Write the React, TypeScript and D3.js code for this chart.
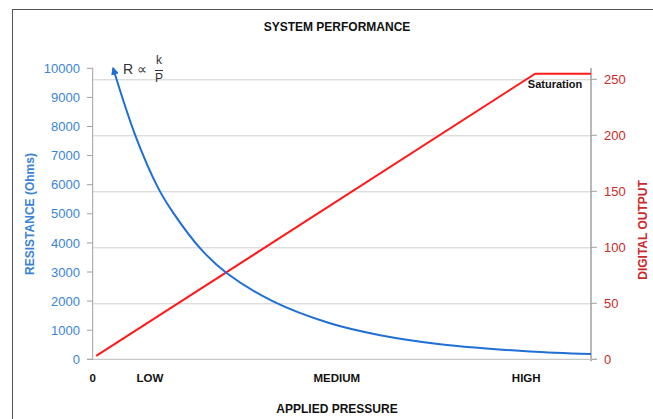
import React from "react";
import * as d3 from "d3";

const pressure = [4.1, 8.6, 13.1, 16.1, 21.9, 27.0, 36.2, 47.6, 57.7, 69.7, 77.8, 87.8, 100];
const resistance = [10000, 7670, 5900, 5050, 3750, 2950, 1990, 1240, 830, 520, 390, 270, 180];

const digitalPressure = [0.7, 88.8, 100];
const digitalOutput = [3, 255, 255];

const xTickValues = [0, 11.5, 49, 87];
const xTickLabels = ["0", "LOW", "MEDIUM", "HIGH"];

const leftTicks = d3.range(0, 10001, 1000);
const rightTicks = d3.range(0, 251, 50);

const W = 653;
const H = 419;
const FONT = "'Liberation Sans', Arial, sans-serif";
const BLUE = "#1f6fd4";
const BLUE_TXT = "#3a84d8";
const RED = "#ff1a1a";
const RED_TXT = "#cc2a2a";

export default function App() {
  const x = d3.scaleLinear().domain([0, 100]).range([92.7, 591]);
  const yL = d3.scaleLinear().domain([0, 10000]).range([359.3, 68.3]);
  const yR = d3.scaleLinear().domain([0, 250]).range([359.3, 79.3]);

  const blueLine = d3
    .line<number>()
    .x((_, i) => x(pressure[i]))
    .y((d) => yL(d))
    .curve(d3.curveCatmullRom.alpha(0.5))(resistance) as string;

  const redLine = d3
    .line<number>()
    .x((_, i) => x(digitalPressure[i]))
    .y((d) => yR(d))(digitalOutput) as string;

  const x0 = x(0);
  const x1 = x(100);
  const yb = yL(0);

  return (
    <svg
      width={W}
      height={H}
      style={{ position: "absolute", left: 0, top: 0, background: "#fff" }}
      fontFamily={FONT}
    >
      <defs>
        <marker
          id="arr"
          viewBox="0 0 10 10"
          refX="8"
          refY="5"
          markerWidth="4"
          markerHeight="4"
          orient="auto-start-reverse"
        >
          <path d="M0,0 L10,5 L0,10 z" fill={BLUE} />
        </marker>
      </defs>
      <rect x={12.5} y={9.5} width={700} height={500} fill="none" stroke="#555" strokeWidth={1} />

      <text x={337} y={31} textAnchor="middle" fontSize={12} fontWeight="bold" fill="#111">
        SYSTEM PERFORMANCE
      </text>

      {rightTicks.slice(1).map((t) => (
        <line key={"g" + t} x1={x0} x2={x1} y1={yR(t) + 0.5} y2={yR(t) + 0.5} stroke="#cfcfcf" strokeWidth={1} />
      ))}

      <line x1={x0} x2={x0} y1={68} y2={yb} stroke="#a0a0a0" strokeWidth={1} />
      <line x1={x1} x2={x1} y1={68} y2={yb + 2} stroke="#a0a0a0" strokeWidth={1.5} />
      <line x1={87} x2={597} y1={yb} y2={yb} stroke="#c8c8c8" strokeWidth={1.2} />

      {leftTicks.map((t) => (
        <g key={"l" + t}>
          <line x1={87} x2={x0} y1={yL(t)} y2={yL(t)} stroke="#a0a0a0" strokeWidth={1} />
          <text x={80} y={yL(t)} dy="0.36em" textAnchor="end" fontSize={13} fill={BLUE_TXT}>
            {t}
          </text>
        </g>
      ))}

      {rightTicks.map((t) => (
        <g key={"r" + t}>
          <line x1={x1} x2={597} y1={yR(t)} y2={yR(t)} stroke="#a0a0a0" strokeWidth={1} />
          <text x={604} y={yR(t)} dy="0.36em" textAnchor="start" fontSize={13} fill={RED_TXT}>
            {t}
          </text>
        </g>
      ))}

      {xTickValues.map((v, i) => (
        <text key={"x" + i} x={x(v)} y={382} textAnchor="middle" fontSize={11.5} fontWeight="bold" fill="#111">
          {xTickLabels[i]}
        </text>
      ))}

      <text x={337} y={413} textAnchor="middle" fontSize={12} fontWeight="bold" fill="#111">
        APPLIED PRESSURE
      </text>

      <text
        transform={`translate(34,214) rotate(-90)`}
        textAnchor="middle"
        fontSize={12}
        fontWeight="bold"
        fill={BLUE_TXT}
      >
        RESISTANCE (Ohms)
      </text>
      <text
        transform={`translate(647,230) rotate(-90)`}
        textAnchor="middle"
        fontSize={12}
        fontWeight="bold"
        fill={RED_TXT}
      >
        DIGITAL OUTPUT
      </text>

      <path d={redLine} fill="none" stroke={RED} strokeWidth={2} />
      <path d={blueLine} fill="none" stroke={BLUE} strokeWidth={2} markerStart="url(#arr)" />

      <text x={123} y={74} fontSize={14} fill="#333">
        R ∝
      </text>
      <text x={159} y={64} textAnchor="middle" fontSize={12} fill="#333">
        k
      </text>
      <line x1={155} x2={163} y1={70.5} y2={70.5} stroke="#333" strokeWidth={1} />
      <text x={159} y={82} textAnchor="middle" fontSize={12} fill="#333">
        P
      </text>

      <text x={555} y={88} textAnchor="middle" fontSize={11} fontWeight="bold" fill="#111">
        Saturation
      </text>
    </svg>
  );
}
